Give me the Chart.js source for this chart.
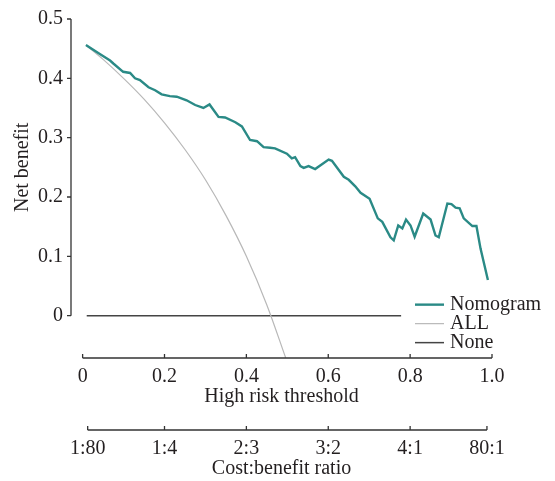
<!DOCTYPE html>
<html>
<head>
<meta charset="utf-8">
<script src="https://cdn.jsdelivr.net/npm/chart.js@4.4.1/dist/chart.umd.min.js"></script>
<style>
  html, body { margin: 0; padding: 0; background: #fff; }
  #wrap { width: 555px; height: 481px; }
</style>
</head>
<body>
<div id="wrap"><canvas id="dca"></canvas></div>
<script>
// Nomogram net benefit
const nomoX = [0.008, 0.042, 0.067, 0.075, 0.099, 0.116, 0.128, 0.140, 0.161, 0.177, 0.193, 0.213, 0.230, 0.254, 0.275, 0.295, 0.310, 0.332, 0.348, 0.373, 0.389, 0.409, 0.426, 0.442, 0.458, 0.470, 0.499, 0.511, 0.519, 0.532, 0.540, 0.552, 0.568, 0.601, 0.609, 0.638, 0.650, 0.666, 0.679, 0.701, 0.721, 0.732, 0.752, 0.760, 0.771, 0.781, 0.790, 0.801, 0.811, 0.832, 0.850, 0.862, 0.870, 0.891, 0.901, 0.911, 0.921, 0.931, 0.952, 0.962, 0.972, 0.990];
const nomoY = [0.456, 0.441, 0.430, 0.425, 0.411, 0.409, 0.400, 0.397, 0.385, 0.380, 0.373, 0.370, 0.369, 0.363, 0.355, 0.350, 0.356, 0.335, 0.334, 0.326, 0.319, 0.296, 0.294, 0.284, 0.283, 0.282, 0.273, 0.265, 0.267, 0.252, 0.249, 0.252, 0.247, 0.263, 0.261, 0.234, 0.229, 0.218, 0.207, 0.197, 0.164, 0.158, 0.132, 0.127, 0.152, 0.147, 0.162, 0.152, 0.133, 0.172, 0.162, 0.135, 0.132, 0.189, 0.188, 0.182, 0.181, 0.164, 0.151, 0.151, 0.113, 0.060];

// Treat-all curve
const allX = [0.01, 0.05, 0.10, 0.15, 0.20, 0.25, 0.30, 0.35, 0.40, 0.45, 0.496];
const allY = [0.455, 0.432, 0.400, 0.365, 0.325, 0.280, 0.229, 0.169, 0.100, 0.018, -0.071];

// Treat-none line
const noneX = [0.01, 0.778];
const noneY = [0, 0];

// Axis ticks
const yTicks = [0, 0.1, 0.2, 0.3, 0.4, 0.5];
const yTickLabels = ['0', '0.1', '0.2', '0.3', '0.4', '0.5'];
const xTicks = [0, 0.2, 0.4, 0.6, 0.8, 1.0];
const xTickLabels = ['0', '0.2', '0.4', '0.6', '0.8', '1.0'];
const ratioTicks = [1 / 81, 0.2, 0.4, 0.6, 0.8, 80 / 81];
const ratioLabels = ['1:80', '1:4', '2:3', '3:2', '4:1', '80:1'];

const FONT = { family: '"Liberation Serif", "Times New Roman", serif', size: 20, lineHeight: 1.1 };
const TEXT = '#231f20';
const AXIS = '#333333';

const toPoints = (xs, ys) => xs.map((x, i) => ({ x: x, y: ys[i] }));

const setTicks = (values) => (scale) => {
    scale.ticks = values.map(v => ({ value: v }));
};

// Draws axis lines, inward ticks, the y title and the legend
const decorations = {
    id: 'decorations',
    afterDraw(chart) {
        const ctx = chart.ctx;
        const x = chart.scales.x;
        const y = chart.scales.y;
        const x2 = chart.scales.x2;
        ctx.save();
        ctx.strokeStyle = AXIS;
        ctx.lineWidth = 1.3;

        // y axis
        const ax = chart.chartArea.left;
        ctx.beginPath();
        ctx.moveTo(ax, y.getPixelForValue(yTicks[0]));
        ctx.lineTo(ax, y.getPixelForValue(yTicks[yTicks.length - 1]));
        yTicks.forEach(v => {
            const py = y.getPixelForValue(v);
            ctx.moveTo(ax - 4, py);
            ctx.lineTo(ax, py);
        });
        ctx.stroke();

        // threshold axis
        const by = chart.chartArea.bottom;
        ctx.beginPath();
        ctx.moveTo(x.getPixelForValue(xTicks[0]), by);
        ctx.lineTo(x.getPixelForValue(xTicks[xTicks.length - 1]), by);
        xTicks.forEach(v => {
            const px = x.getPixelForValue(v);
            ctx.moveTo(px, by - 4);
            ctx.lineTo(px, by);
        });
        ctx.stroke();

        // cost:benefit axis
        const ry = x2.top + 22;
        ctx.beginPath();
        ctx.moveTo(x2.getPixelForValue(ratioTicks[0]), ry);
        ctx.lineTo(x2.getPixelForValue(ratioTicks[ratioTicks.length - 1]), ry);
        ratioTicks.forEach(v => {
            const px = x2.getPixelForValue(v);
            ctx.moveTo(px, ry - 4);
            ctx.lineTo(px, ry);
        });
        ctx.stroke();

        // y title
        ctx.fillStyle = TEXT;
        ctx.font = FONT.size + 'px ' + FONT.family;
        ctx.textAlign = 'center';
        ctx.textBaseline = 'middle';
        ctx.save();
        ctx.translate(23, y.getPixelForValue(0.25));
        ctx.rotate(-Math.PI / 2);
        ctx.fillText('Net benefit', 0, 0);
        ctx.restore();

        // legend
        const lx = chart.chartArea.right - 77;
        let ly = y.getPixelForValue(0) - 11;
        ctx.textAlign = 'left';
        chart.data.datasets.forEach(ds => {
            ctx.strokeStyle = ds.borderColor;
            ctx.lineWidth = ds.borderWidth;
            ctx.beginPath();
            ctx.moveTo(lx, ly);
            ctx.lineTo(lx + 29, ly);
            ctx.stroke();
            ctx.fillText(ds.label, lx + 35, ly);
            ly += 19;
        });
        ctx.restore();
    }
};

new Chart(document.getElementById('dca'), {
    type: 'line',
    data: {
        datasets: [
            {
                label: 'Nomogram',
                data: toPoints(nomoX, nomoY),
                borderColor: '#2a8a86',
                borderWidth: 2.4,
                pointRadius: 0,
                tension: 0,
                fill: false
            },
            {
                label: 'ALL',
                data: toPoints(allX, allY),
                borderColor: '#b8b8b8',
                borderWidth: 1.2,
                pointRadius: 0,
                cubicInterpolationMode: 'monotone',
                fill: false
            },
            {
                label: 'None',
                data: toPoints(noneX, noneY),
                borderColor: '#444444',
                borderWidth: 1.5,
                pointRadius: 0,
                fill: false
            }
        ]
    },
    options: {
        responsive: true,
        maintainAspectRatio: false,
        animation: false,
        layout: {
            padding: { left: 6, top: 19, right: 63, bottom: 1 }
        },
        plugins: {
            legend: { display: false },
            tooltip: { enabled: false }
        },
        scales: {
            y: {
                type: 'linear',
                min: -0.0714,
                max: 0.5,
                afterBuildTicks: setTicks(yTicks),
                afterFit: (scale) => { scale.width = 65; },
                grid: { display: false, drawTicks: false },
                border: { display: false },
                ticks: {
                    font: FONT,
                    color: TEXT,
                    padding: 8,
                    callback: (value, i) => yTickLabels[i]
                }
            },
            x: {
                type: 'linear',
                position: 'bottom',
                weight: 0,
                min: -0.0284,
                max: 1.0,
                afterBuildTicks: setTicks(xTicks),
                afterFit: (scale) => { scale.height = 50; },
                grid: { display: false, drawTicks: false },
                border: { display: false },
                ticks: {
                    font: FONT,
                    color: TEXT,
                    padding: 8,
                    maxRotation: 0,
                    callback: (value, i) => xTickLabels[i]
                },
                title: {
                    display: true,
                    text: 'High risk threshold',
                    font: FONT,
                    color: TEXT,
                    padding: { top: 0, bottom: 0 }
                }
            },
            x2: {
                type: 'linear',
                position: 'bottom',
                weight: 1,
                min: -0.0284,
                max: 1.0,
                afterBuildTicks: setTicks(ratioTicks),
                afterFit: (scale) => { scale.height = 72; },
                grid: { display: false, drawTicks: false },
                border: { display: false },
                ticks: {
                    font: FONT,
                    color: TEXT,
                    padding: 30,
                    maxRotation: 0,
                    autoSkip: false,
                    callback: (value, i) => ratioLabels[i]
                },
                title: {
                    display: true,
                    text: 'Cost:benefit ratio',
                    font: FONT,
                    color: TEXT,
                    padding: { top: 0, bottom: 0 }
                }
            }
        }
    },
    plugins: [decorations]
});
</script>
</body>
</html>
